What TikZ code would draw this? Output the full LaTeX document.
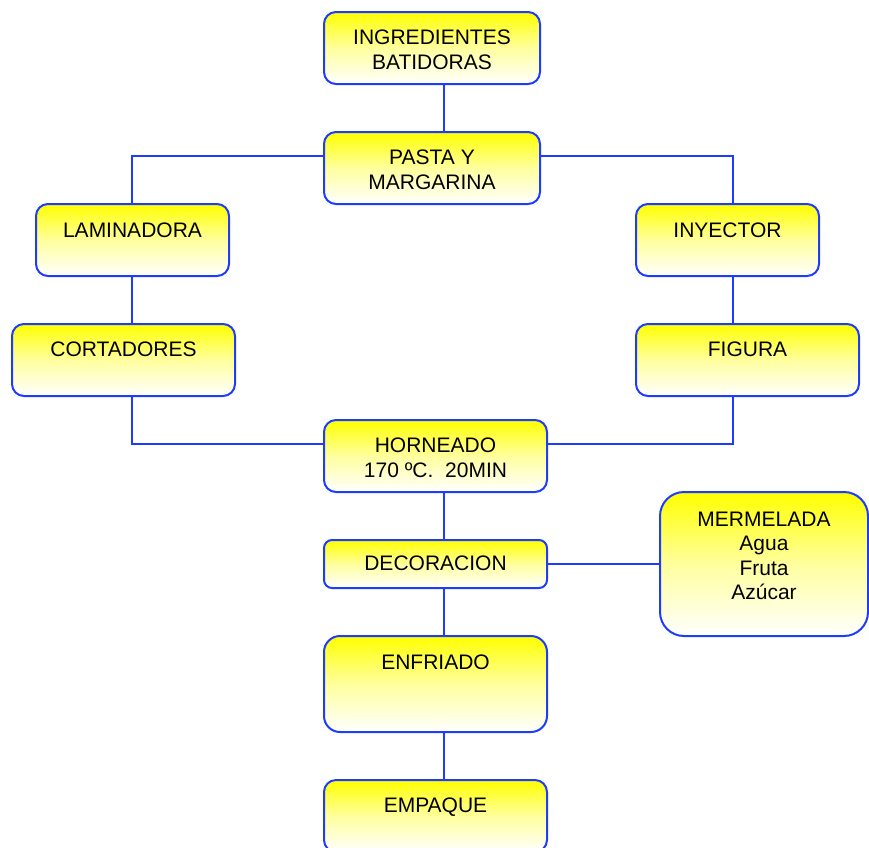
\documentclass[tikz,border=0pt]{standalone}
\usepackage{fontspec}
\setmainfont{Liberation Sans}
\definecolor{edgeblue}{RGB}{30,60,255}
\definecolor{boxyellow}{RGB}{255,255,0}
\newcommand{\boxtxt}[4]{\parbox[c][#2pt][t]{#1pt}{\centering\vspace*{#3pt}#4\par}}
\tikzset{
  flowbox/.style={draw=edgeblue, line width=2pt, top color=boxyellow, bottom color=white,
    middle color=boxyellow!38!white,
    inner sep=0pt, outer sep=0pt, font=\fontsize{21}{24.5}\selectfont},
  conn/.style={draw=edgeblue, line width=1.8pt}
}
\begin{document}
\begin{tikzpicture}[x=1pt,y=-1pt]
\clip (0,0) rectangle (869,847);
\useasboundingbox (0,0) rectangle (869,847);
\coordinate (lx) at (132,0);
\coordinate (cx) at (444,0);
\coordinate (rx) at (733,0);

\node[flowbox, rounded corners=12pt] (ing) at (432,48) {\boxtxt{216}{72}{18}{INGREDIENTES\\BATIDORAS}};
\node[flowbox, rounded corners=12pt] (pasta) at (432,168) {\boxtxt{216}{72}{18}{PASTA Y\\MARGARINA}};
\node[flowbox, rounded corners=12pt] (lam) at (132.5,240) {\boxtxt{193}{72}{19}{LAMINADORA}};
\node[flowbox, rounded corners=12pt] (iny) at (727.5,240) {\boxtxt{183}{72}{19}{INYECTOR}};
\node[flowbox, rounded corners=12pt] (cort) at (123.5,360) {\boxtxt{223}{72}{18}{CORTADORES}};
\node[flowbox, rounded corners=12pt] (fig) at (747.5,360) {\boxtxt{223}{72}{18}{FIGURA}};
\node[flowbox, rounded corners=12pt] (horn) at (435.5,456) {\boxtxt{223}{72}{18}{HORNEADO\\170 ºC.\ \ 20MIN}};
\node[flowbox, rounded corners=8pt] (deco) at (435.5,564) {\boxtxt{223}{48}{16}{DECORACION}};
\node[flowbox, rounded corners=24pt] (merm) at (764,564) {\boxtxt{208}{144}{20}{MERMELADA\\Agua\\Fruta\\Azúcar}};
\node[flowbox, rounded corners=16pt] (enf) at (435.5,684) {\boxtxt{223}{96}{19}{ENFRIADO}};
\node[flowbox, rounded corners=12pt] (emp) at (435.5,816) {\boxtxt{223}{72}{18}{EMPAQUE}};

\draw[conn] (ing.south -| cx) -- (pasta.north -| cx);
\draw[conn] ([yshift=12pt]pasta.west) -| (lam.north -| lx);
\draw[conn] ([yshift=12pt]pasta.east) -| (iny.north -| rx);
\draw[conn] (lam.south -| lx) -- (cort.north -| lx);
\draw[conn] (iny.south -| rx) -- (fig.north -| rx);
\draw[conn] (cort.south -| lx) |- ([yshift=12pt]horn.west);
\draw[conn] (fig.south -| rx) |- ([yshift=12pt]horn.east);
\draw[conn] (horn.south -| cx) -- (deco.north -| cx);
\draw[conn] (deco.east) -- (merm.west |- deco.east);
\draw[conn] (deco.south -| cx) -- (enf.north -| cx);
\draw[conn] (enf.south -| cx) -- (emp.north -| cx);
\end{tikzpicture}
\end{document}
